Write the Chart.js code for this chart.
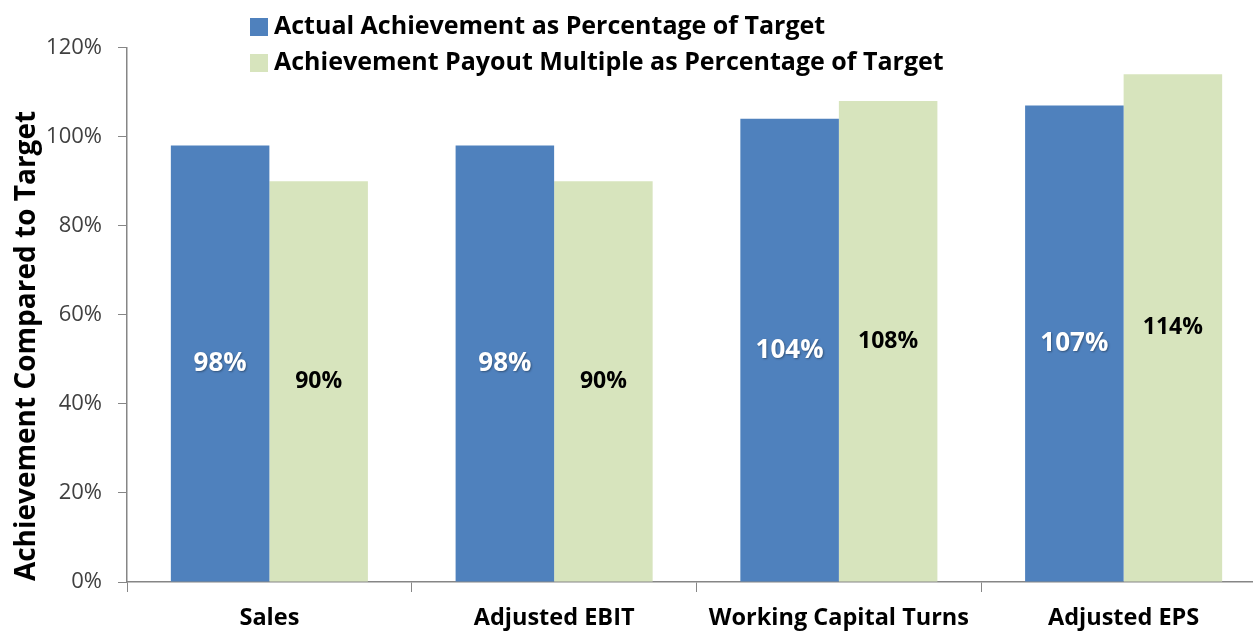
<!DOCTYPE html>
<html>
<head>
<meta charset="utf-8">
<script src="https://cdn.jsdelivr.net/npm/chart.js@4.4.1/dist/chart.umd.min.js"></script>
<style>
  html, body { margin: 0; padding: 0; background: #fff; overflow: hidden; }
  #wrap { width: 1270px; height: 631px; position: relative; }
</style>
</head>
<body>
<div id="wrap"><canvas id="c" width="1270" height="631"></canvas></div>
<script>
const categories = ["Sales", "Adjusted EBIT", "Working Capital Turns", "Adjusted EPS"];
const actualValues = [98, 98, 104, 107];
const payoutValues = [90, 90, 108, 114];
const seriesNames = ["Actual Achievement as Percentage of Target", "Achievement Payout Multiple as Percentage of Target"];
const yTicks = [0, 20, 40, 60, 80, 100, 120];
const yTitle = "Achievement Compared to Target";

const BLUE = "#4F81BD";
const GREEN = "#D7E4BD";
const FONT = "'Open Sans', sans-serif";

const legendPlugin = {
  id: "customLegend",
  afterDraw(chart) {
    const ctx = chart.ctx;
    ctx.save();
    chart.data.datasets.forEach((ds, i) => {
      const y = 18 + i * 36;
      ctx.fillStyle = ds.backgroundColor;
      ctx.fillRect(250, y, 18, 18);
      ctx.fillStyle = "#000";
      ctx.font = "bold 25px " + FONT;
      ctx.textAlign = "left";
      ctx.textBaseline = "middle";
      ctx.fillText(ds.label, 274, y + 9);
    });
    ctx.restore();
  }
};

const titlePlugin = {
  id: "yTitle",
  afterDraw(chart) {
    const ctx = chart.ctx;
    ctx.save();
    ctx.translate(27, 346);
    ctx.rotate(-Math.PI / 2);
    ctx.fillStyle = "#000";
    ctx.font = "bold 28px " + FONT;
    ctx.textAlign = "center";
    ctx.textBaseline = "middle";
    ctx.fillText(yTitle, 0, 0);
    ctx.restore();
  }
};

const labelPlugin = {
  id: "barLabels",
  afterDatasetsDraw(chart) {
    const ctx = chart.ctx;
    ctx.save();
    chart.data.datasets.forEach((ds, di) => {
      const meta = chart.getDatasetMeta(di);
      meta.data.forEach((bar, i) => {
        const v = ds.data[i];
        const cy = (bar.y + bar.base) / 2;
        ctx.textAlign = "center";
        ctx.textBaseline = "middle";
        if (di === 0) {
          ctx.font = "bold 26px " + FONT;
          ctx.shadowColor = "rgba(0,0,0,0.35)";
          ctx.shadowBlur = 2;
          ctx.shadowOffsetX = 1;
          ctx.shadowOffsetY = 1;
          ctx.fillStyle = "#fff";
        } else {
          ctx.font = "bold 23px " + FONT;
          ctx.shadowColor = "transparent";
          ctx.fillStyle = "#000";
        }
        ctx.fillText(v + "%", bar.x, cy);
      });
    });
    ctx.restore();
  }
};

new Chart(document.getElementById("c"), {
  type: "bar",
  data: {
    labels: categories,
    datasets: [
      { label: seriesNames[0], data: actualValues, backgroundColor: BLUE, categoryPercentage: 0.692, barPercentage: 1.0 },
      { label: seriesNames[1], data: payoutValues, backgroundColor: GREEN, categoryPercentage: 0.692, barPercentage: 1.0 }
    ]
  },
  options: {
    responsive: false,
    animation: false,
    devicePixelRatio: 1,
    layout: { padding: { top: 47.5, right: 4, left: 0, bottom: 0 } },
    plugins: { legend: { display: false }, tooltip: { enabled: false } },
    scales: {
      x: {
        grid: { offset: true, drawOnChartArea: false, tickLength: 10, color: "#868686", lineWidth: 1 },
        border: { color: "#868686", width: 1.5 },
        ticks: { color: "#000", font: { family: FONT, size: 23.5, weight: "bold" }, padding: 12, maxRotation: 0 },
        afterFit(s) { s.height = 49; }
      },
      y: {
        min: 0, max: 120,
        afterBuildTicks(s) { s.ticks = yTicks.map(v => ({ value: v })); },
        grid: { drawOnChartArea: false, tickLength: 9, color: "#868686", lineWidth: 1 },
        border: { color: "#868686", width: 1.5 },
        ticks: { color: "#404040", font: { family: FONT, size: 22 }, padding: 16, callback: v => v + "%" },
        afterFit(s) { s.width = 127; }
      }
    }
  },
  plugins: [legendPlugin, titlePlugin, labelPlugin]
});
</script>
</body>
</html>
